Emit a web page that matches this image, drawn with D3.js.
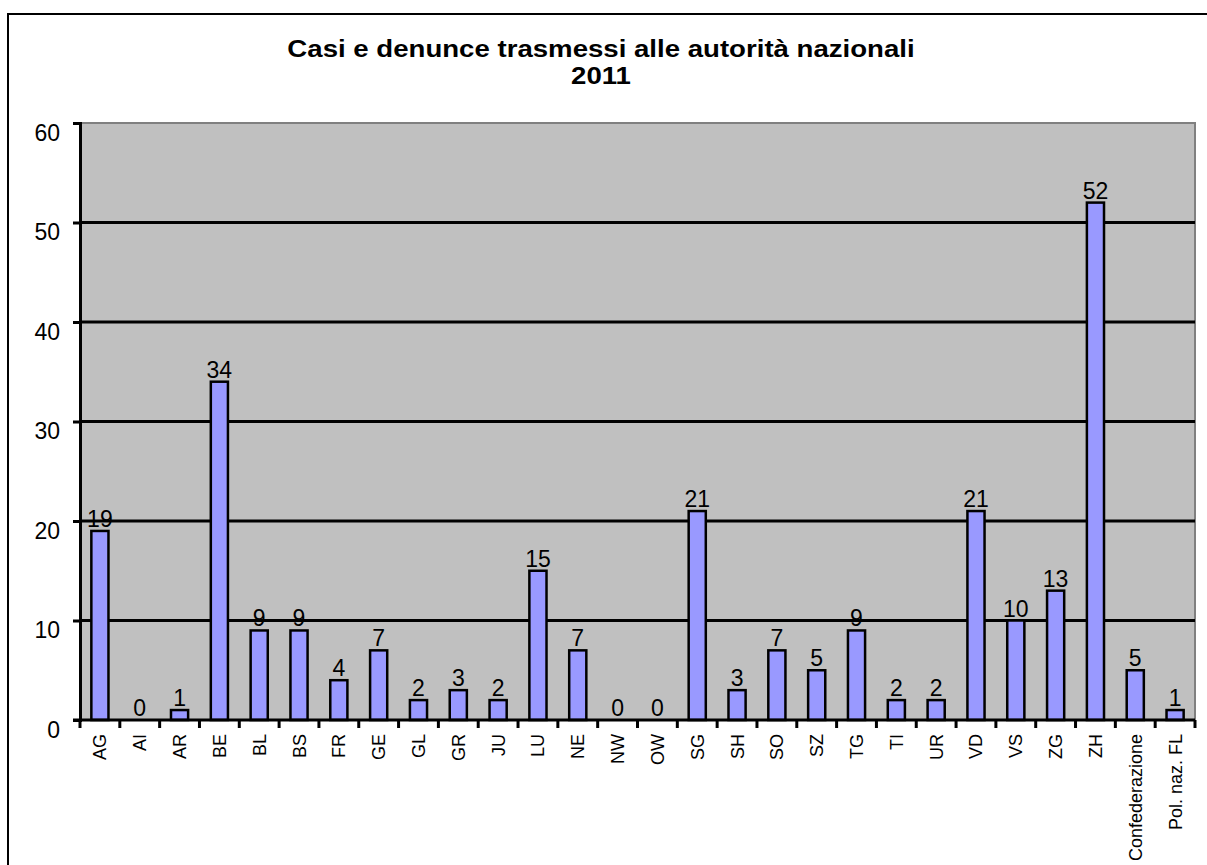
<!DOCTYPE html>
<html>
<head>
<meta charset="utf-8">
<script src="https://cdn.jsdelivr.net/npm/d3@7"></script>
<style>
  body { margin: 0; background: #fff; }
  text { font-family: Arial, "Liberation Sans", sans-serif; }
</style>
</head>
<body>
<script>
var categories = ["AG", "AI", "AR", "BE", "BL", "BS", "FR", "GE", "GL", "GR", "JU", "LU", "NE", "NW", "OW",
    "SG", "SH", "SO", "SZ", "TG", "TI", "UR", "VD", "VS", "ZG", "ZH", "Confederazione", "Pol. naz. FL"];
var values = [19, 0, 1, 34, 9, 9, 4, 7, 2, 3, 2, 15, 7, 0, 0,
    21, 3, 7, 5, 9, 2, 2, 21, 10, 13, 52, 5, 1];
var yTicks = [0, 10, 20, 30, 40, 50, 60];
var titleLines = ["Casi e denunce trasmessi alle autorità nazionali", "2011"];

var W = 1207, H = 865;
var margin = { top: 123, right: 12, bottom: 145, left: 80 },
    width = W - margin.left - margin.right,
    height = H - margin.top - margin.bottom;

var root = d3.select("body").append("svg")
    .attr("width", W)
    .attr("height", H);

// outer chart border
root.append("rect")
    .attr("x", 8).attr("y", 14)
    .attr("width", 1215).attr("height", 870)
    .attr("fill", "none")
    .attr("stroke", "#000")
    .attr("stroke-width", 2);

// title (reference glyphs are a bit wide, so stretch horizontally)
root.append("g")
    .attr("transform", "translate(601,0) scale(1.15,1)")
    .append("text")
    .attr("x", 0).attr("y", 57)
    .attr("text-anchor", "middle")
    .style("font-weight", "bold")
    .style("font-size", "24px")
    .selectAll("tspan")
    .data(titleLines)
    .enter().append("tspan")
    .attr("x", 0)
    .attr("dy", (d, i) => i ? 27 : 0)
    .text(d => d);

var svg = root.append("g")
    .attr("transform", "translate(" + margin.left + "," + margin.top + ")");

var x = d3.scaleBand()
    .domain(categories)
    .range([0, width])
    .paddingInner(0.57)
    .paddingOuter(0.285);

var y = d3.scaleLinear()
    .domain([0, 60])
    .range([height, 0]);

// plot background
svg.append("rect")
    .attr("width", width).attr("height", height)
    .attr("fill", "#c0c0c0")
    .attr("stroke", "#808080")
    .attr("stroke-width", 2);

// gridlines
svg.selectAll(".grid")
    .data(yTicks.filter(d => d > 0 && d < 60))
    .enter().append("line")
    .attr("x1", 0).attr("x2", width)
    .attr("y1", d => y(d)).attr("y2", d => y(d))
    .attr("stroke", "#000")
    .attr("stroke-width", 3);

// bars
svg.selectAll(".bar")
    .data(categories.map((c, i) => ({ c: c, v: values[i] })).filter(d => d.v > 0))
    .enter().append("rect")
    .attr("x", d => x(d.c))
    .attr("y", d => y(d.v))
    .attr("width", x.bandwidth())
    .attr("height", d => y(0) - y(d.v))
    .attr("fill", "#9999ff")
    .attr("stroke", "#000")
    .attr("stroke-width", 2.5);

// value labels
svg.selectAll(".val")
    .data(categories.map((c, i) => ({ c: c, v: values[i] })))
    .enter().append("text")
    .attr("x", d => x(d.c) + x.bandwidth() / 2)
    .attr("y", d => y(d.v) - 4)
    .attr("text-anchor", "middle")
    .style("font-size", "23px")
    .text(d => d.v);

// y axis
var yAxis = svg.append("g")
    .call(d3.axisLeft(y).tickValues(yTicks).tickSize(7).tickPadding(13));
yAxis.select(".domain").attr("stroke-width", 3);
yAxis.selectAll(".tick line").attr("stroke-width", 3);
yAxis.selectAll(".tick text")
    .style("font-size", "23px")
    .attr("font-family", null)
    .attr("y", 9)
    .attr("dy", "0.36em");

// x axis: ticks on category boundaries
var xAxisG = svg.append("g")
    .attr("transform", "translate(0," + height + ")");
xAxisG.append("line")
    .attr("x1", -7).attr("x2", width)
    .attr("stroke", "#000")
    .attr("stroke-width", 3);
xAxisG.selectAll(".bt")
    .data(d3.range(categories.length + 1))
    .enter().append("line")
    .attr("x1", i => i * x.step()).attr("x2", i => i * x.step())
    .attr("y1", 0).attr("y2", 8)
    .attr("stroke", "#000")
    .attr("stroke-width", 3);
xAxisG.selectAll(".lab")
    .data(categories)
    .enter().append("text")
    .attr("transform", d => "translate(" + (x(d) + x.bandwidth() / 2) + ",14) rotate(-90)")
    .attr("text-anchor", "end")
    .attr("dy", "0.36em")
    .style("font-size", "18px")
    .text(d => d);
</script>
</body>
</html>
